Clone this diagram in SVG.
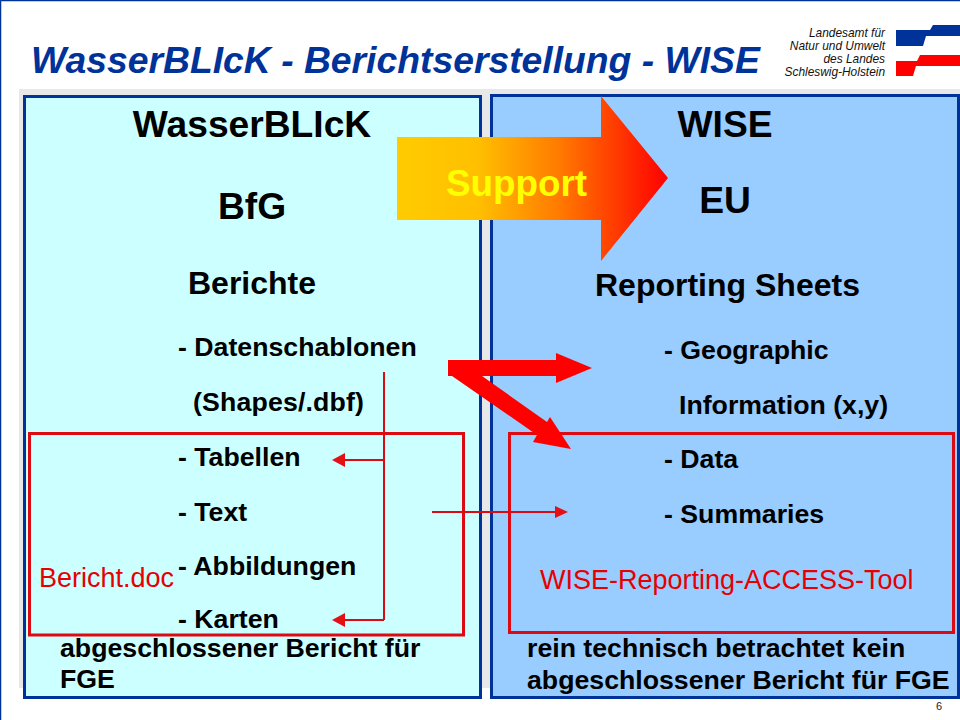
<svg xmlns="http://www.w3.org/2000/svg" width="960" height="720" viewBox="0 0 960 720">
<style>
text{font-family:"Liberation Sans",Arial,sans-serif;fill:#000}
.b{font-weight:700;font-size:26.7px}
.h{font-weight:700;font-size:37.2px;text-anchor:middle}
.m{font-weight:700;font-size:32px}
.red{font-size:27px;fill:#e60000}
.logo{font-style:italic;font-size:11.9px;text-anchor:end;fill:#111}
.panel{stroke:#003399;stroke-width:3}
.box{fill:none;stroke:#dd0a14;stroke-width:3}
.thin{stroke:#dd0a14;stroke-width:2;fill:none}
.hd{fill:#e60f14}
.fat{fill:#ff0000}
</style>
<defs>
<linearGradient id="g" gradientUnits="userSpaceOnUse" x1="397" y1="0" x2="668" y2="0">
<stop offset="0" stop-color="#ffcc00"/><stop offset="0.3" stop-color="#ffbf00"/><stop offset="0.6" stop-color="#ff7a00"/><stop offset="1" stop-color="#ff0000"/>
</linearGradient>
</defs>
<rect width="960" height="720" fill="#fff"/>
<path d="M0.5 720V0.5H960" fill="none" stroke="#003399" stroke-width="1.5"/>
<rect x="19" y="89" width="941" height="599" fill="#e8e8e8"/>
<text id="title" x="31" y="73" style="font-weight:700;font-style:italic;font-size:37.3px;fill:#003399">WasserBLIcK - Berichtserstellung - WISE</text>
<g id="logo">
<text class="logo" x="885" y="37">Landesamt für</text>
<text class="logo" x="885" y="50">Natur und Umwelt</text>
<text class="logo" x="885" y="63">des Landes</text>
<text class="logo" x="885" y="76">Schleswig-Holstein</text>
<polygon points="896,30 930,30 933,25 960,25 960,36 926,36 923,46 896,46" fill="#003399"/>
<polygon points="896,61 917,61 920,55 960,55 960,66 916,66 913,76 896,76" fill="#ff0000"/>
</g>
<g id="panel-left">
<rect class="panel" x="24.5" y="96.5" width="456" height="601" fill="#ccffff"/>
<text class="h" x="252" y="137">WasserBLIcK</text>
<text class="h" x="252" y="219">BfG</text>
<text class="m" x="188" y="294">Berichte</text>
<text class="b" x="178" y="356">- Datenschablonen</text>
<text class="b" x="193" y="411" textLength="171">(Shapes/.dbf)</text>
<text class="b" x="178" y="466">- Tabellen</text>
<text class="b" x="178" y="521">- Text</text>
<text class="b" x="178" y="575">- Abbildungen</text>
<text class="b" x="178" y="628">- Karten</text>
<text class="b" x="60" y="657">abgeschlossener Bericht für</text>
<text class="b" x="60" y="688">FGE</text>
<text class="red" x="39" y="587">Bericht.doc</text>
</g>
<g id="panel-right">
<rect class="panel" x="491.5" y="95.5" width="467" height="602" fill="#99ccff"/>
<text class="h" x="725" y="137">WISE</text>
<text class="h" x="725" y="213">EU</text>
<text class="m" x="595" y="296">Reporting Sheets</text>
<text class="b" x="664" y="359">- Geographic</text>
<text class="b" x="679" y="414">Information (x,y)</text>
<text class="b" x="664" y="468">- Data</text>
<text class="b" x="664" y="523">- Summaries</text>
<text class="red" x="540" y="589">WISE-Reporting-ACCESS-Tool</text>
<text class="b" x="527" y="657">rein technisch betrachtet kein</text>
<text class="b" x="527" y="689">abgeschlossener Bericht für FGE</text>
</g>
<g id="box-left"><rect class="box" x="29.5" y="433.5" width="434" height="201.500"/></g>
<g id="box-right"><rect class="box" x="509.500" y="433.5" width="444" height="199"/></g>
<g id="support">
<polygon points="397,137 601,137 601,96 668,178 601,261 601,220 397,220" fill="url(#g)"/>
<text x="516.500" y="196" text-anchor="middle" style="font-weight:700;font-size:36.800px;fill:#ffff00">Support</text>
</g>
<g id="connectors">
<path class="thin" d="M384 372V620M384 460H344M384 620H344M432 512H558"/>
<polygon class="hd" points="332,460 345,453 345,467"/>
<polygon class="hd" points="332,620 345,613 345,627"/>
<polygon class="hd" points="568,512 555,506 555,518"/>
<polygon class="fat" points="448,360 556,360 556,353 592,368 556,383 556,376 482,376 547,422 550,417 571,449 533,442 537,435 452,376 448,376"/>
</g>
<text id="page" x="939" y="710" text-anchor="middle" style="font-size:11px;fill:#222">6</text>
</svg>
